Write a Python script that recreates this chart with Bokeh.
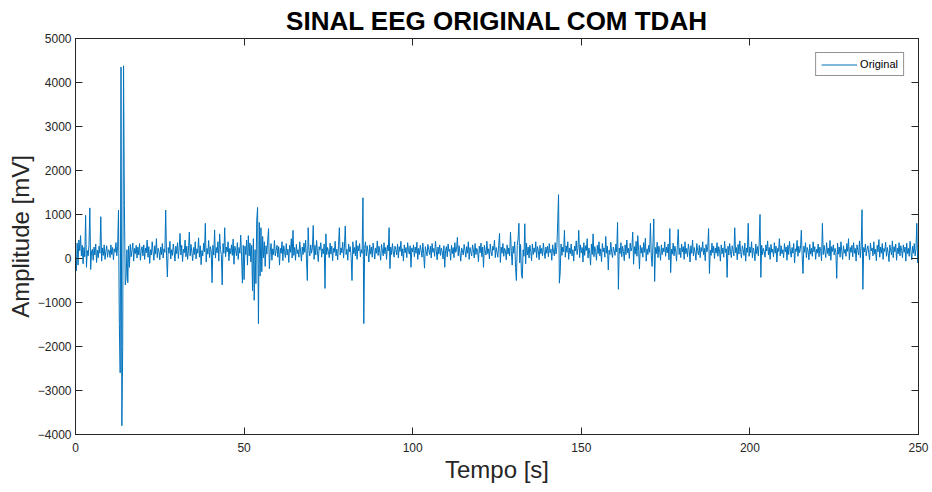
from bokeh.plotting import figure
from bokeh.models import (Range1d, FixedTicker, LinearAxis, Legend, LegendItem,
                          ColumnDataSource, CustomJSTickFormatter)
from bokeh.embed import file_html
from bokeh.resources import INLINE

title_text = "SINAL EEG ORIGINAL COM TDAH"
x_label = "Tempo [s]"
y_label = "Amplitude [mV]"
series_name = "Original"
x_ticks = [0, 50, 100, 150, 200, 250]
y_ticks = [-4000, -3000, -2000, -1000, 0, 1000, 2000, 3000, 4000, 5000]
sample_step_s = 0.25

amplitude_mv = [
    0, -280, 350, -150, 420, 180, 520, 60, 300, -120, 250, 40, 980, -200, 180, 60, 300, 1150, -250, 150,
    210, -40, 260, 80, 330, -90, 190, 20, 280, 120, 950, -60, 240, 70, 310, -20, 160, 290, 30, 200,
    180, 20, 310, 90, 250, -30, 220, 140, 360, 60, 280, 1100, -1500, -2600, 4350, -3800, -2000, 4380, 1200, -600,
    -450, 200, -550, 280, -200, 320, 40, 180, 350, -60, 230, 110, 300, 10, 260, 80, 340, -40, 190, 270,
    60, 310, -20, 240, 130, 420, 30, 270, -110, 200, 80, 380, 150, -40, 290, 100, 450, 20, 230, 160,
    -30, 260, 90, 340, 10, 220, 140, 1100, 60, -420, 250, 120, 390, -10, 200, 70, 330, 150, -60, 280,
    110, 360, 0, 240, 570, 80, 300, -70, 210, 130, 420, 40, 280, -20, 190, 600, 60, 320, 150, -50,
    250, 90, 380, -10, 220, 120, 470, 30, 290, -140, 180, 60, 350, 150, 800, -80, 230, 100, 410, 20,
    270, 170, -550, 300, 80, 650, 10, 250, 130, 380, -60, 560, 200, 90, -600, 340, 120, 700, 40, 260,
    150, 380, -50, 230, 110, 310, 70, 440, -130, 280, 190, 60, 360, -20, 250, 120, 530, 40, -560, 300,
    -480, 280, 90, 420, -150, 520, 60, 350, -80, 300, -730, 450, -950, 200, -570, 870, 1160, -1480, 820, -400,
    700, -300, 500, 20, 380, -180, 290, 100, 420, 680, -230, 150, 340, -40, 220, 90, 410, 60, 180, 300,
    30, 270, -150, 230, 120, 380, -50, 290, 160, 20, 340, 80, 210, -90, 300, 140, 450, 10, 640, 70,
    250, -40, 320, 110, 200, 30, 380, 170, -60, 260, 90, 350, 140, 420, 0, -500, 700, 180, 60, 310,
    120, 240, 750, -20, 300, 80, 410, 150, -70, 270, 190, 360, 30, 220, 110, 330, -680, 560, 90, 250,
    160, 20, 350, 100, 280, -50, 230, 140, 390, 60, 210, -30, 300, 700, 80, 240, 130, 370, 10, 260,
    740, 90, 210, -40, 330, 150, 270, 20, -500, 380, 110, 250, 60, 410, -20, 290, 170, 340, 40, 200,
    120, 1380, -1480, 230, 380, 60, 290, 150, -80, 310, 100, 260, 30, 350, 190, -10, 240, 120, 400, 70,
    280, 140, -40, 320, 190, 60, 360, 110, 250, -20, 300, 170, 700, -230, 260, 90, 340, 150, 30, 280,
    200, 80, 330, 10, 270, 160, 390, 60, 220, -60, 310, 130, 250, 20, 360, 180, 100, 290, -200, 240,
    150, 310, 40, 260, 120, 370, -20, 230, 90, 300, 180, 30, 350, 110, -220, 270, 160, 60, 320, 200,
    90, 280, 10, 340, 140, 230, 50, 390, 170, -30, 260, 100, 310, 70, 240, 150, -10, 290, -200, 180,
    270, 40, 330, 160, 210, -40, 300, 110, 250, 20, 360, 140, 200, 480, 60, 290, 130, -60, 240, 170,
    80, 320, 190, 30, 270, 120, 380, -20, 250, 150, 60, 310, 200, 10, 340, 90, 230, 160, -70, 280,
    130, 350, 40, 260, -200, 300, 170, 80, 390, 110, 220, -10, 330, 150, 60, 280, 190, 420, 20, 250,
    140, 30, 300, 570, -90, 260, 120, 340, 50, 230, 180, -30, 310, 100, 240, 60, 600, 150, -150, 280,
    120, 380, -200, -500, 290, 450, 800, -100, 320, -350, -450, 200, 50, 790, -120, 350, 80, 260, 10, 300,
    160, -50, 330, 90, 240, 140, 380, 20, 270, 180, -30, 300, 110, 230, 60, 350, 150, 0, 260, 120,
    280, 40, 340, 130, 210, -40, 310, 170, 60, 360, 100, 250, 820, 1450, -560, -300, 330, 70, 260, 150,
    640, 30, 290, 140, 380, -20, 240, 110, 330, 60, 200, -60, 280, 170, 400, 90, 230, 640, 20, 310,
    130, 250, -80, 360, 70, 290, 180, 450, 10, 240, 120, -150, 330, 90, 560, 40, 270, 160, -40, 300,
    110, 380, 60, 220, -70, 340, 150, 240, 30, 500, 120, 280, -260, 190, 90, 370, 140, 20, 260, 180,
    70, 330, 150, 820, -700, 240, 110, 360, 40, 280, 160, -50, 310, 90, 420, 130, 230, 0, 350, 170,
    240, 600, -130, 270, 100, 390, 50, 520, 180, -240, 300, 120, 250, 30, 360, 140, 460, -60, 220, 90,
    300, 140, 800, 60, -180, 330, 900, -520, 250, 110, 370, 20, 280, 170, -40, 310, 90, 240, 150, 380,
    50, 260, 130, 330, -30, 680, -320, 210, 100, 350, 60, 280, 170, -60, 300, 660, 90, 240, 20, 330,
    150, 270, -20, 380, 110, 230, 40, 330, 190, -80, 290, 120, 420, 60, 250, 140, -40, 340, 180, 80,
    300, 20, 250, 160, 380, 90, 230, -50, 320, 150, 260, 680, -340, 190, 70, 350, 130, 280, 0, 240,
    120, 360, 50, 270, 170, -60, 310, 110, 240, 30, 390, 140, 220, -430, 280, 80, 340, 150, 20, 290,
    180, 60, 700, 130, 250, -30, 320, 100, 400, 160, 10, 290, 210, 70, 350, -60, 240, 140, 800, 50,
    260, 130, 380, 20, 240, 160, -50, 330, 110, 270, 60, 350, 1000, -430, 300, 90, 230, 150, 30, 310,
    170, 400, 80, 250, -20, 320, 140, 210, 40, 360, 120, 280, -80, 230, 160, 450, 60, 290, 110, 200,
    20, 340, 150, 260, -40, 300, 90, 390, 170, 30, 250, 120, 340, -100, 220, 160, 410, 50, 280, 130,
    230, 640, 60, -340, 280, 140, 360, 20, 250, 170, -30, 320, 100, 230, 50, 380, 150, 270, -20, 210,
    120, 330, 40, 260, 180, -50, 800, 90, 300, 150, 20, 360, 110, 240, 60, 410, -40, 270, 160, 310,
    80, 230, 140, -450, 350, 100, 260, 30, 380, 170, -20, 290, 120, 210, 50, 340, 160, 450, -30, 250,
    140, 300, 40, 360, 120, 230, -60, 310, 180, 80, 400, 20, 270, 1110, -700, 250, 150, 330, 60, 210,
    290, 120, -30, 350, 170, 240, 60, 380, 100, 210, -50, 300, 150, 430, 30, 260, 120, 340, -20, 230,
    160, 370, 50, 250, 130, -70, 310, 190, 80, 400, 20, 270, 150, 330, -40, 240, 110, 360, 60, 290,
    180, 20, 310, 140, 260, -60, 350, 110, 230, 50, 390, 160, -30, 280, 120, 340, 60, 220, 800, -100,
    150,
]
time_s = [i * sample_step_s for i in range(len(amplitude_mv))]

AX = "#262626"
FONT = "Liberation Sans"

p = figure(width=932, height=492, output_backend="svg", toolbar_location=None,
           x_range=Range1d(0, 250), y_range=Range1d(-4000, 5000),
           min_border_left=75, min_border_right=14, min_border_top=38, min_border_bottom=58,
           background_fill_color="white", border_fill_color="white")

p.title.text = title_text
p.title.align = "center"
p.title.text_font = FONT
p.title.text_font_size = "26px"
p.title.text_font_style = "bold"
p.title.text_color = "black"
p.title.standoff = 5

p.xgrid.visible = False
p.ygrid.visible = False
p.outline_line_color = AX

def style_axis(ax):
    ax.axis_line_color = AX
    ax.major_tick_line_color = AX
    ax.major_tick_in = 7
    ax.major_tick_out = 0
    ax.minor_tick_line_color = None
    ax.major_label_text_font = FONT
    ax.major_label_text_color = AX
    ax.major_label_text_font_size = "12px"

xa = p.xaxis[0]
ya = p.yaxis[0]
xa.ticker = FixedTicker(ticks=x_ticks)
ya.ticker = FixedTicker(ticks=y_ticks)
style_axis(xa)
style_axis(ya)
xa.major_label_standoff = 8
ya.major_label_standoff = 4
xa.axis_label = x_label
ya.axis_label = y_label
for ax in (xa, ya):
    ax.axis_label_text_font = FONT
    ax.axis_label_text_font_size = "24px"
    ax.axis_label_text_font_style = "normal"
    ax.axis_label_text_color = AX
xa.axis_label_standoff = 1
ya.axis_label_standoff = 1

# box-style ticks on the top and right edges, without labels
blank = CustomJSTickFormatter(code="return '';")
top_ax = LinearAxis(ticker=FixedTicker(ticks=x_ticks), formatter=blank)
right_ax = LinearAxis(ticker=FixedTicker(ticks=y_ticks), formatter=blank)
for ax in (top_ax, right_ax):
    style_axis(ax)
    ax.major_label_standoff = 0
p.add_layout(top_ax, "above")
p.add_layout(right_ax, "right")

src = ColumnDataSource(dict(t=time_s, v=amplitude_mv))
r = p.line("t", "v", source=src, line_color="#0072BD", line_width=1)

legend = Legend(items=[LegendItem(label=series_name, renderers=[r])],
                location="top_right", margin=14, padding=5, spacing=0,
                glyph_width=36, glyph_height=9, label_height=9, label_standoff=3,
                label_text_font=FONT, label_text_font_size="11px", label_text_color="black",
                border_line_color=AX, border_line_width=1,
                background_fill_color="white", background_fill_alpha=1)
p.add_layout(legend)

open("out.html", "w").write(file_html(p, INLINE))
